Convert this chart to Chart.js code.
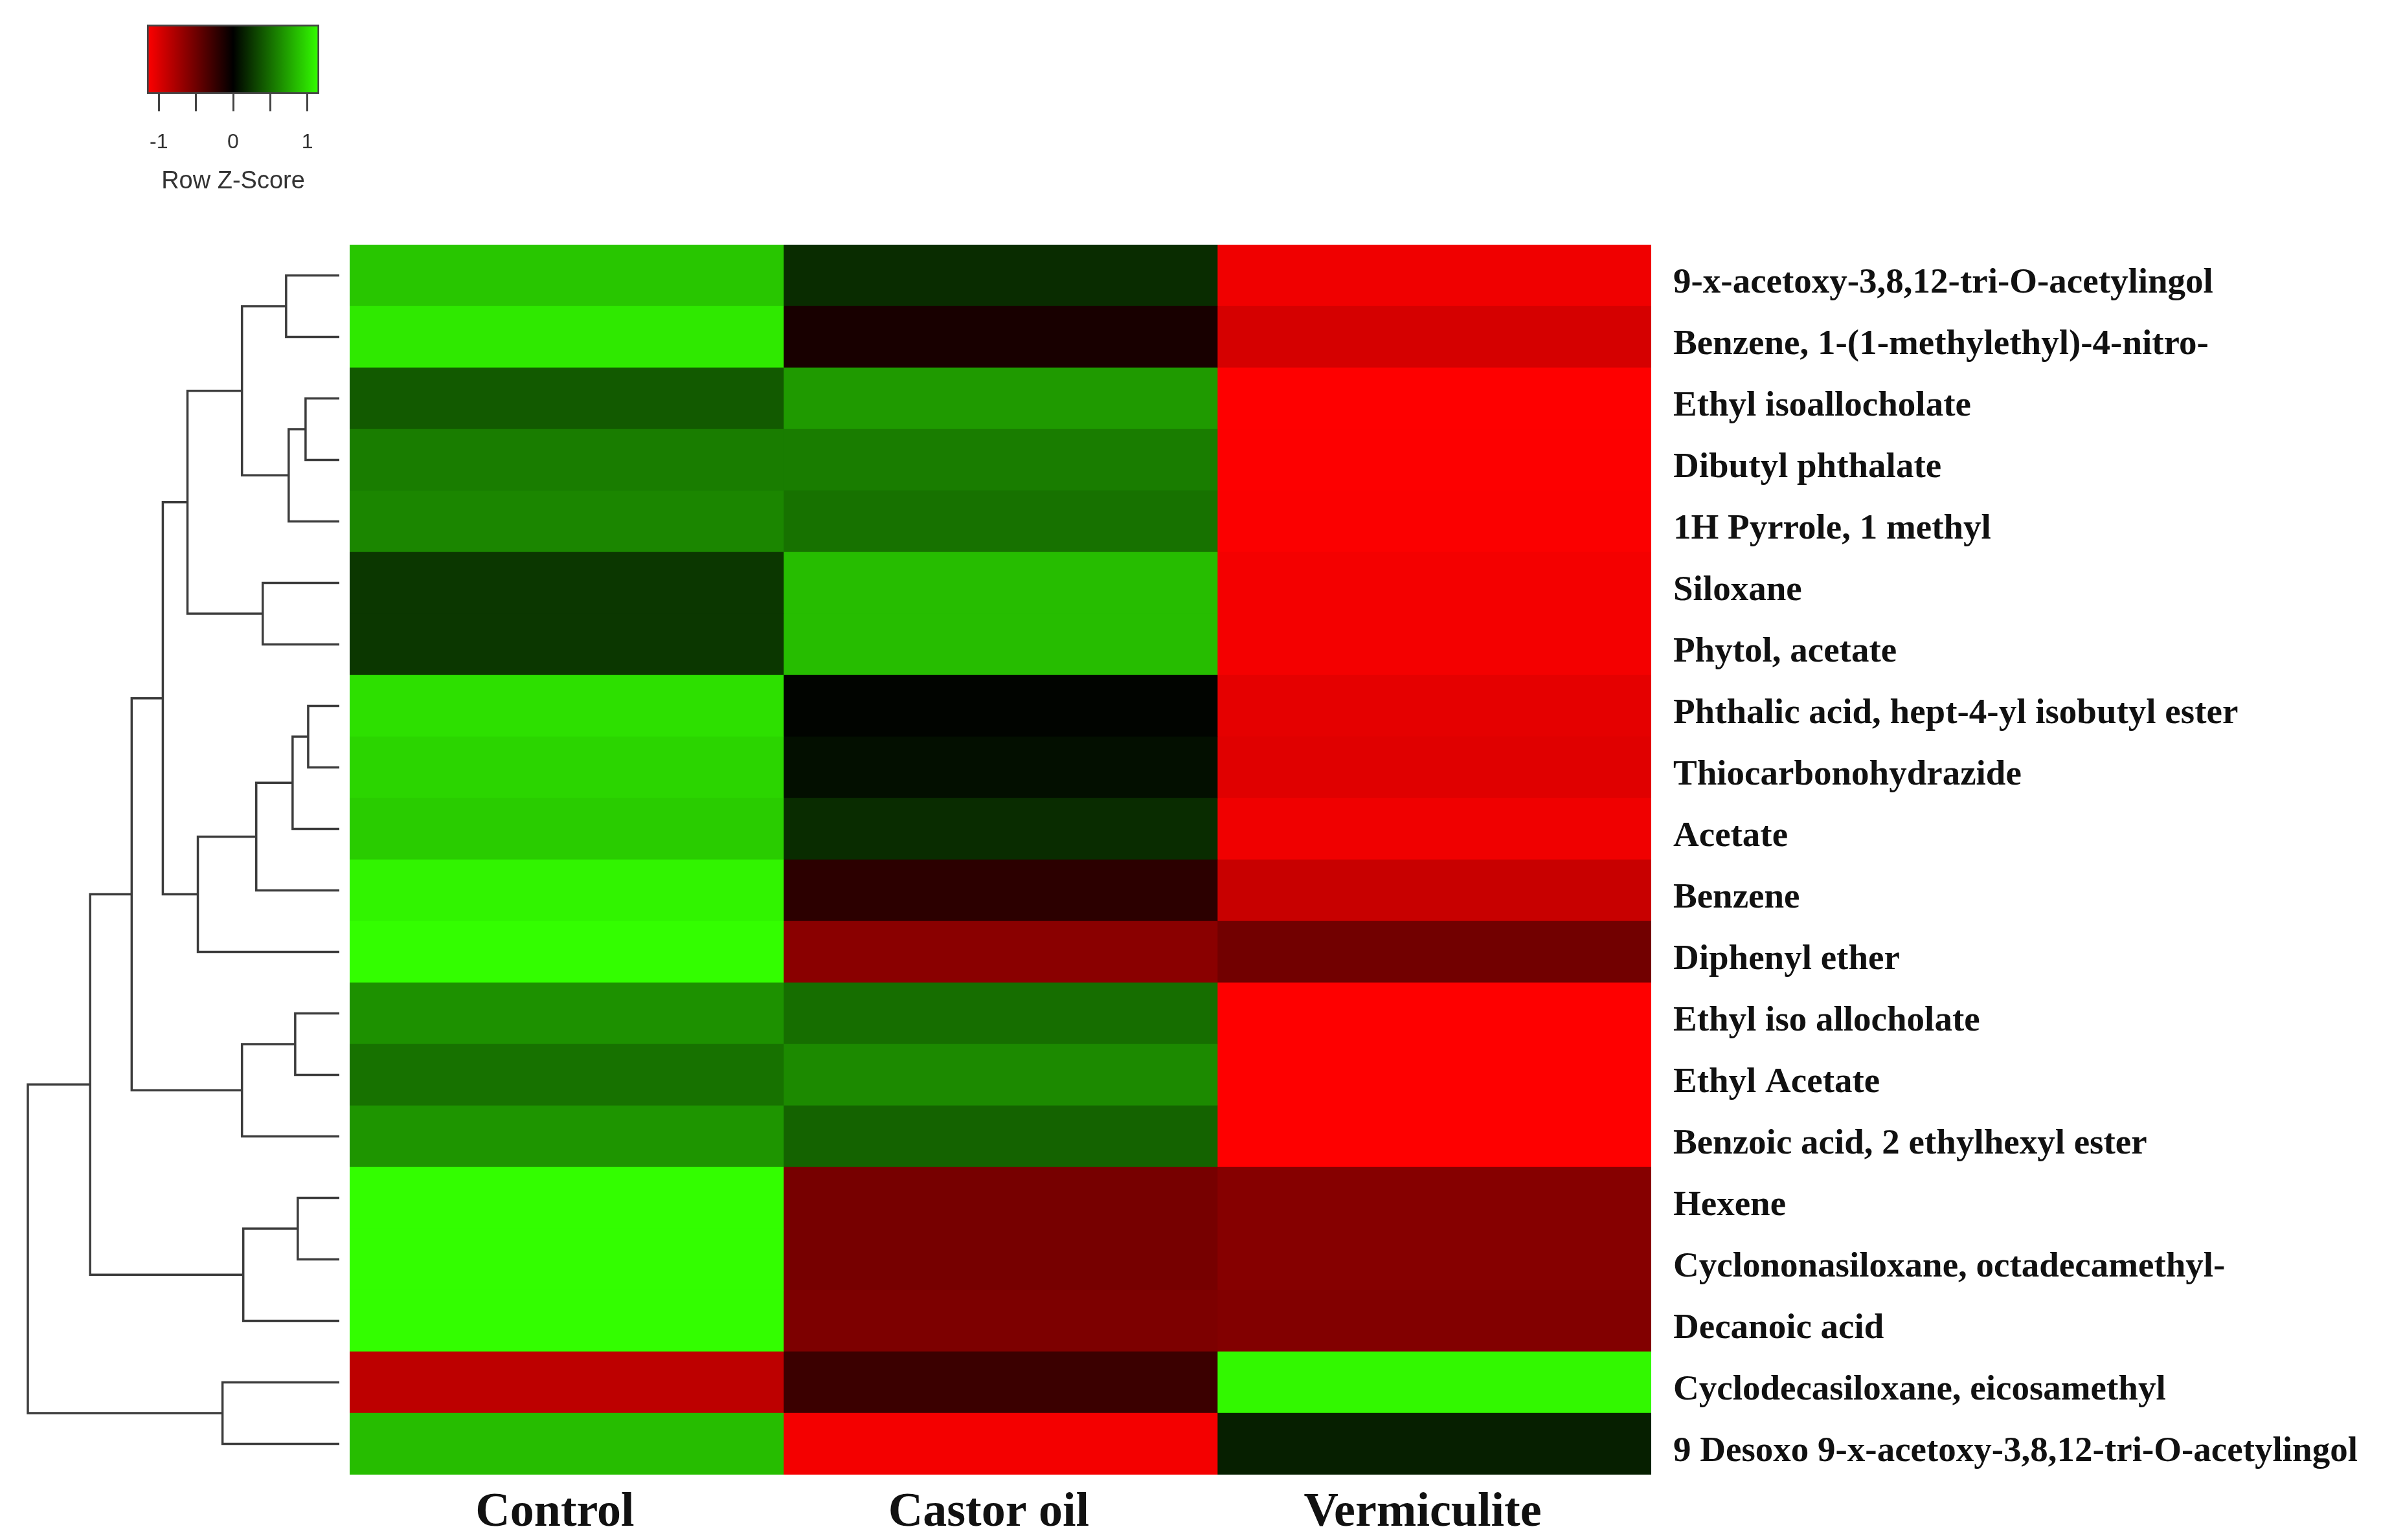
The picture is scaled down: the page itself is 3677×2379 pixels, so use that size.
<!DOCTYPE html>
<html>
<head>
<meta charset="utf-8">
<script src="https://cdn.jsdelivr.net/npm/chart.js@4.4.0/dist/chart.umd.min.js"></script>
<style>
  html, body { margin: 0; padding: 0; background: #ffffff; }
  #page { position: relative; width: 3677px; height: 2379px; background: #ffffff; overflow: hidden; }
  canvas { position: absolute; }
</style>
</head>
<body>
<div id="page">
  <canvas id="keyChart" width="450" height="330" style="left:150px; top:0px;"></canvas>
  <canvas id="treeChart" width="540" height="2001" style="left:0px; top:378px;"></canvas>
  <canvas id="heatChart" width="3137" height="2001" style="left:540px; top:378px;"></canvas>
</div>
<script>
// rows, top to bottom as in the figure
var rowLabels = [
    '9-x-acetoxy-3,8,12-tri-O-acetylingol',
    'Benzene, 1-(1-methylethyl)-4-nitro-',
    'Ethyl isoallocholate',
    'Dibutyl phthalate',
    '1H Pyrrole, 1 methyl',
    'Siloxane',
    'Phytol, acetate',
    'Phthalic acid, hept-4-yl isobutyl ester',
    'Thiocarbonohydrazide',
    'Acetate',
    'Benzene',
    'Diphenyl ether',
    'Ethyl iso allocholate',
    'Ethyl Acetate',
    'Benzoic acid, 2 ethylhexyl ester',
    'Hexene',
    'Cyclononasiloxane, octadecamethyl-',
    'Decanoic acid',
    'Cyclodecasiloxane, eicosamethyl',
    '9 Desoxo 9-x-acetoxy-3,8,12-tri-O-acetylingol'
];
var columnLabels = ['Control', 'Castor oil', 'Vermiculite'];

// row z-scores
var controlZ     = [0.90, 1.06, 0.41, 0.57, 0.61, 0.25, 0.25, 1.02, 0.97, 0.93, 1.11, 1.155, 0.66, 0.52, 0.68, 1.155, 1.155, 1.155, -0.86, 0.86];
var castorZ      = [0.20, -0.11, 0.70, 0.57, 0.52, 0.86, 0.86, 0.02, 0.07, 0.20, -0.20, -0.63, 0.50, 0.63, 0.45, -0.54, -0.54, -0.57, -0.27, -1.11];
var vermiculiteZ = [-1.09, -0.97, -1.155, -1.15, -1.14, -1.11, -1.11, -1.04, -1.02, -1.09, -0.91, -0.52, -1.155, -1.155, -1.155, -0.61, -0.61, -0.59, 1.13, 0.14];

// row dendrogram, hclust style: negative = row number, positive = earlier merge
var mergeLeft   = [-1, -3, -5, 1, -6, 4, -8, -10, -11, -12, 6, -13, -15, 11, -16, -18, 14, -19, 17];
var mergeRight  = [-2, -4, 2, 3, -7, 5, -9, 7, 8, 9, 10, -14, 12, 13, -17, 15, 16, -20, 18];
var mergeHeight = [0.41, 0.26, 0.39, 0.75, 0.59, 1.17, 0.24, 0.36, 0.64, 1.09, 1.36, 0.34, 0.75, 1.60, 0.32, 0.74, 1.92, 0.90, 2.40];

// colour key
var keyTicks = [-1, -0.5, 0, 0.5, 1];
var zMax = 1.16;

var serif = "'Liberation Serif', 'Times New Roman', serif";
var sans = "'Liberation Sans', Arial, sans-serif";

function zColor(z) {
    var t = Math.min(Math.abs(z) / zMax, 1);
    if (z >= 0) {
        return 'rgb(' + Math.round(51 * t) + ',' + Math.round(255 * t) + ',0)';
    }
    return 'rgb(' + Math.round(255 * t) + ',0,0)';
}

// ---- heatmap ----
var columnValues = [controlZ, castorZ, vermiculiteZ];
var heatSets = [];
for (var c = 0; c < columnValues.length; c++) {
    var cells = [];
    var colours = [];
    for (var r = 0; r < rowLabels.length; r++) {
        cells.push([c, c + 1]);
        colours.push(zColor(columnValues[c][r]));
    }
    heatSets.push({
        label: columnLabels[c],
        data: cells,
        backgroundColor: colours,
        borderWidth: 0,
        barPercentage: 1,
        categoryPercentage: 1,
        grouped: false
    });
}

new Chart(document.getElementById('heatChart'), {
    type: 'bar',
    data: { labels: rowLabels, datasets: heatSets },
    options: {
        responsive: false,
        animation: false,
        indexAxis: 'y',
        layout: { padding: 0 },
        plugins: { legend: { display: false }, tooltip: { enabled: false } },
        scales: {
            x: {
                type: 'linear',
                min: 0,
                max: 3,
                position: 'bottom',
                afterBuildTicks: function (s) {
                    s.ticks = [0.5, 1.5, 2.5].map(function (v) { return { value: v }; });
                },
                afterFit: function (s) {
                    s.height = 101;
                    s.paddingLeft = 0;
                    s.paddingRight = 0;
                },
                grid: { display: false, drawTicks: false, tickLength: 0 },
                border: { display: false },
                ticks: {
                    autoSkip: false,
                    maxRotation: 0,
                    padding: 15,
                    labelOffset: -18,
                    color: '#111111',
                    font: { family: serif, size: 74, weight: 'bold' },
                    callback: function (v, i) { return columnLabels[i]; }
                }
            },
            y: {
                position: 'right',
                afterFit: function (s) {
                    s.width = 1127;
                    s.paddingTop = 0;
                    s.paddingBottom = 0;
                },
                grid: { display: false, drawTicks: false, tickLength: 0 },
                border: { display: false },
                ticks: {
                    autoSkip: false,
                    padding: 34,
                    labelOffset: 12,
                    color: '#111111',
                    font: { family: serif, size: 55, weight: 'bold' }
                }
            }
        }
    }
});

// ---- dendrogram ----
var nodeY = [];
var nodeH = [];
function childPos(id) {
    if (id < 0) return { y: -id - 1, h: 0 };
    return { y: nodeY[id - 1], h: nodeH[id - 1] };
}
var treeSets = [];
for (var i = 0; i < mergeLeft.length; i++) {
    var a = childPos(mergeLeft[i]);
    var b = childPos(mergeRight[i]);
    var h = mergeHeight[i];
    nodeY.push((a.y + b.y) / 2);
    nodeH.push(h);
    treeSets.push({
        data: [{ x: a.h, y: a.y }, { x: h, y: a.y }, { x: h, y: b.y }, { x: b.h, y: b.y }],
        showLine: true,
        pointRadius: 0,
        borderColor: '#3c3c3c',
        borderWidth: 3.5,
        tension: 0,
        clip: false
    });
}

new Chart(document.getElementById('treeChart'), {
    type: 'scatter',
    data: { datasets: treeSets },
    options: {
        responsive: false,
        animation: false,
        layout: { padding: { left: 43, right: 16, top: 0, bottom: 101 } },
        plugins: { legend: { display: false }, tooltip: { enabled: false } },
        scales: {
            x: { type: 'linear', min: 0, max: 2.4, reverse: true, display: false },
            y: { type: 'linear', min: -0.5, max: rowLabels.length - 0.5, reverse: true, display: false }
        }
    }
});

// ---- colour key ----
new Chart(document.getElementById('keyChart'), {
    type: 'bar',
    data: {
        labels: ['key'],
        datasets: [{
            data: [[-zMax, zMax]],
            backgroundColor: function (ctx) {
                var area = ctx.chart.chartArea;
                if (!area) return '#000000';
                var g = ctx.chart.ctx.createLinearGradient(area.left, 0, area.right, 0);
                g.addColorStop(0, '#ff0000');
                g.addColorStop(0.5, '#000000');
                g.addColorStop(1, '#33ff00');
                return g;
            },
            borderColor: '#444444',
            borderWidth: 3,
            borderSkipped: false,
            barPercentage: 1,
            categoryPercentage: 1
        }]
    },
    options: {
        responsive: false,
        animation: false,
        indexAxis: 'y',
        layout: { padding: { left: 77, right: 107, top: 38, bottom: 0 } },
        plugins: { legend: { display: false }, tooltip: { enabled: false } },
        scales: {
            x: {
                type: 'linear',
                min: -zMax,
                max: zMax,
                position: 'bottom',
                afterBuildTicks: function (s) {
                    s.ticks = keyTicks.map(function (v) { return { value: v }; });
                },
                afterFit: function (s) { s.height = 185; },
                grid: { drawOnChartArea: false, drawTicks: true, tickLength: 27, tickColor: '#444444', tickWidth: 3 },
                border: { display: false },
                ticks: {
                    autoSkip: false,
                    maxRotation: 0,
                    padding: 29,
                    color: '#333333',
                    font: { family: sans, size: 32 },
                    callback: function (v) { return Number.isInteger(v) ? String(v) : ''; }
                },
                title: {
                    display: true,
                    text: 'Row Z-Score',
                    color: '#333333',
                    font: { family: sans, size: 38 },
                    padding: { top: 0, bottom: 27 }
                }
            },
            y: { display: false }
        }
    }
});
</script>
</body>
</html>
